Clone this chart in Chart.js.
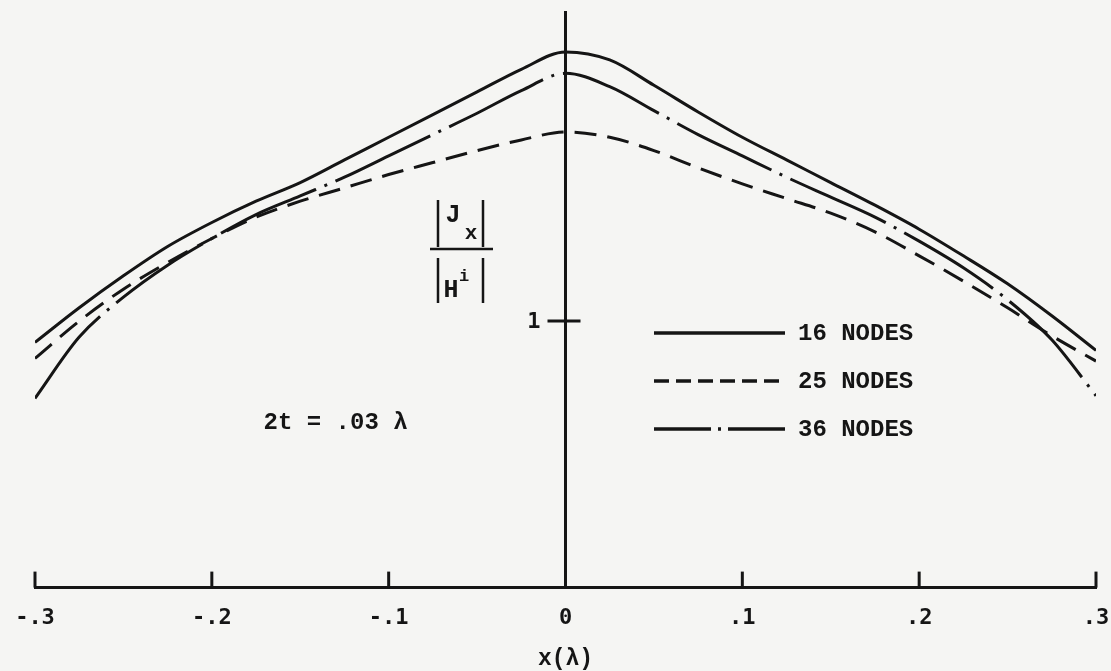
<!DOCTYPE html>
<html lang="en">
<head>
    <meta charset="UTF-8">
    <script src="https://cdn.jsdelivr.net/npm/chart.js"></script>
    <title>|Jx| / |Hi| versus x</title>
    <style>
        html, body { margin: 0; padding: 0; background: #f5f5f3; }
        #example { width: 1111px; height: 671px; }
    </style>
</head>
<body>

<div id="example">
    <canvas id="lineChart" width="1111" height="671"></canvas>
</div>

<script>
    // position across the strip, in wavelengths
    var xValues = [-0.3, -0.275, -0.25, -0.225, -0.2, -0.175, -0.15, -0.125, -0.1, -0.075, -0.05, -0.025,
        0, 0.025, 0.05, 0.075, 0.1, 0.125, 0.15, 0.175, 0.2, 0.225, 0.25, 0.275, 0.3];

    // |Jx| / |Hi|
    var nodes16 = [0.92, 1.05, 1.17, 1.28, 1.37, 1.45, 1.52, 1.605, 1.69, 1.775, 1.86, 1.945,
        2.01, 1.98, 1.885, 1.785, 1.69, 1.605, 1.52, 1.435, 1.345, 1.245, 1.14, 1.02, 0.89];
    var nodes25 = [0.86, 1.00, 1.12, 1.22, 1.31, 1.39, 1.45, 1.50, 1.55, 1.595, 1.64, 1.68,
        1.71, 1.69, 1.64, 1.575, 1.515, 1.46, 1.405, 1.335, 1.245, 1.15, 1.05, 0.945, 0.85];
    var nodes36 = [0.71, 0.94, 1.09, 1.21, 1.31, 1.40, 1.47, 1.54, 1.62, 1.70, 1.78, 1.865,
        1.93, 1.88, 1.79, 1.70, 1.62, 1.54, 1.465, 1.39, 1.30, 1.20, 1.08, 0.93, 0.72];

    var seriesNames = ['16 NODES', '25 NODES', '36 NODES'];
    var xTickValues = [-0.3, -0.2, -0.1, 0, 0.1, 0.2, 0.3];
    var yTickValues = [1];

    var ink = '#151515';
    var curveDash = [[], [22, 11], [105, 9, 3, 9]];
    var legendDash = [[], [15, 7], [57, 7, 3, 7]];

    function toPoints(ys) {
        return xValues.map(function (x, i) { return {x: x, y: ys[i]}; });
    }

    // -.3, -.2 ... 0 ... .2, .3
    function tickText(v) {
        var r = Math.round(v * 10) / 10;
        if (r === 0) return '0';
        return String(r).replace('0.', '.');
    }

    // tick marks pointing into the plot, legend, notes and the |Jx|/|Hi| label
    var extras = {
        id: 'extras',
        afterDraw: function (chart) {
            var ctx = chart.ctx;
            var xs = chart.scales.x, ys = chart.scales.y;
            var x0 = xs.getPixelForValue(0);
            ctx.save();
            ctx.strokeStyle = ink;
            ctx.fillStyle = ink;
            ctx.lineCap = 'butt';

            ctx.lineWidth = 3;
            xTickValues.forEach(function (v) {
                var px = xs.getPixelForValue(v);
                ctx.beginPath();
                ctx.moveTo(px, xs.top);
                ctx.lineTo(px, xs.top - 16);
                ctx.stroke();
            });
            ctx.font = 'bold 22px "DejaVu Sans Mono"';
            ctx.textAlign = 'right';
            ctx.textBaseline = 'middle';
            yTickValues.forEach(function (v) {
                var py = ys.getPixelForValue(v);
                ctx.beginPath();
                ctx.moveTo(x0 - 18, py);
                ctx.lineTo(x0 + 15, py);
                ctx.stroke();
                ctx.fillText(String(v), x0 - 25, py + 1);
            });

            // legend
            var rows = [333, 381, 429];
            ctx.font = 'bold 24px "Liberation Mono"';
            ctx.textAlign = 'left';
            seriesNames.forEach(function (name, i) {
                ctx.lineWidth = 3.5;
                ctx.setLineDash(legendDash[i]);
                ctx.beginPath();
                ctx.moveTo(654, rows[i]);
                ctx.lineTo(785, rows[i]);
                ctx.stroke();
                ctx.setLineDash([]);
                ctx.fillText(name, 798, rows[i] + 1);
            });

            // thickness note
            ctx.textAlign = 'center';
            ctx.fillText('2t = .03 \u03bb', xs.getPixelForValue(-0.13), ys.getPixelForValue(0.617));

            // |Jx| / |Hi|
            ctx.lineWidth = 2.5;
            [[438, 200, 247], [483, 200, 247], [438, 258, 303], [483, 258, 303]].forEach(function (b) {
                ctx.beginPath();
                ctx.moveTo(b[0], b[1]);
                ctx.lineTo(b[0], b[2]);
                ctx.stroke();
            });
            ctx.beginPath();
            ctx.moveTo(430, 249);
            ctx.lineTo(493, 249);
            ctx.stroke();
            ctx.font = 'bold 25px "Liberation Mono"';
            ctx.fillText('J', 453, 216);
            ctx.fillText('H', 451, 291);
            ctx.font = 'bold 21px "Liberation Mono"';
            ctx.fillText('x', 471, 234);
            ctx.font = 'bold 17px "Liberation Mono"';
            ctx.fillText('i', 464, 277);
            ctx.restore();
        }
    };

    function drawLineChart() {
        var ctx = document.getElementById('lineChart').getContext('2d');
        var seriesValues = [nodes16, nodes25, nodes36];

        var myChart = new Chart(ctx, {
            type: 'line',
            data: {
                datasets: seriesValues.map(function (ys, i) {
                    return {
                        label: seriesNames[i],
                        data: toPoints(ys),
                        fill: false,
                        borderColor: ink,
                        borderWidth: 3,
                        borderDash: curveDash[i],
                        pointRadius: 0,
                        cubicInterpolationMode: 'monotone'
                    };
                })
            },
            options: {
                responsive: false,
                animation: false,
                devicePixelRatio: 1,
                layout: {padding: {left: 35, right: 15, top: 12, bottom: 0}},
                plugins: {
                    legend: {display: false},
                    tooltip: {enabled: false}
                },
                scales: {
                    x: {
                        type: 'linear',
                        min: -0.3,
                        max: 0.3,
                        afterBuildTicks: function (s) {
                            s.ticks = xTickValues.map(function (v) { return {value: v}; });
                        },
                        afterFit: function (s) { s.paddingLeft = 0; s.paddingRight = 0; },
                        grid: {drawOnChartArea: false, drawTicks: false},
                        border: {display: true, color: ink, width: 3},
                        ticks: {
                            color: ink,
                            padding: 17,
                            maxRotation: 0,
                            autoSkip: false,
                            font: {family: '"DejaVu Sans Mono"', size: 22, weight: 'bold'},
                            callback: tickText
                        },
                        title: {
                            display: true,
                            text: 'x(\u03bb)',
                            color: ink,
                            font: {family: '"Liberation Mono"', size: 23, weight: 'bold', lineHeight: 1},
                            padding: {top: 0, bottom: 0}
                        }
                    },
                    y: {
                        type: 'linear',
                        min: 0,
                        max: 2.16,
                        position: {x: 0},
                        afterBuildTicks: function (s) {
                            s.ticks = yTickValues.map(function (v) { return {value: v}; });
                        },
                        afterFit: function (s) { s.paddingTop = 0; s.paddingBottom = 0; },
                        grid: {drawOnChartArea: false, drawTicks: false},
                        border: {display: true, color: ink, width: 3},
                        ticks: {display: false}
                    }
                }
            },
            plugins: [extras]
        });
    }

    drawLineChart();
</script>

</body>
</html>
